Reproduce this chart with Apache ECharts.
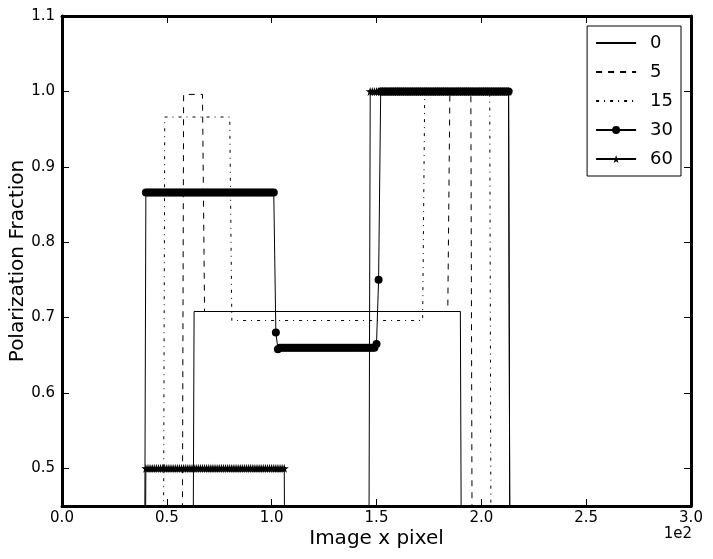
<!DOCTYPE html>
<html>
<head>
<meta charset="utf-8">
<script src="https://cdn.jsdelivr.net/npm/echarts@6/dist/echarts.min.js"></script>
<style>
  html, body { margin: 0; padding: 0; background: #fff; }
  #main { width: 713px; height: 559px; }
</style>
</head>
<body>
<div id="main"></div>
<script>
// legend names (angle)
const seriesNames = ['0', '5', '15', '30', '60']

// lines without markers: [x pixel, fraction] break points
const pol0 = [[62, 0], [63, 0.708], [190, 0.708], [191, 0]]
const pol5 = [[57, 0], [58, 0.996], [67, 0.996], [68, 0.708], [184, 0.708], [185, 1.0], [195, 1.0], [196, 0]]
const pol15 = [[48, 0], [49, 0.966], [80, 0.966], [81, 0.696], [172, 0.696], [173, 1.0], [204, 1.0], [205, 0]]

// lines with markers: one value per pixel, starting at x = 39
const startX = 39
const pol30 = [
  0,
  0.866, 0.866, 0.866, 0.866, 0.866, 0.866, 0.866, 0.866, 0.866, 0.866,
  0.866, 0.866, 0.866, 0.866, 0.866, 0.866, 0.866, 0.866, 0.866, 0.866,
  0.866, 0.866, 0.866, 0.866, 0.866, 0.866, 0.866, 0.866, 0.866, 0.866,
  0.866, 0.866, 0.866, 0.866, 0.866, 0.866, 0.866, 0.866, 0.866, 0.866,
  0.866, 0.866, 0.866, 0.866, 0.866, 0.866, 0.866, 0.866, 0.866, 0.866,
  0.866, 0.866, 0.866, 0.866, 0.866, 0.866, 0.866, 0.866, 0.866, 0.866,
  0.866, 0.866,
  0.68, 0.658,
  0.66, 0.66, 0.66, 0.66, 0.66, 0.66, 0.66, 0.66, 0.66, 0.66,
  0.66, 0.66, 0.66, 0.66, 0.66, 0.66, 0.66, 0.66, 0.66, 0.66,
  0.66, 0.66, 0.66, 0.66, 0.66, 0.66, 0.66, 0.66, 0.66, 0.66,
  0.66, 0.66, 0.66, 0.66, 0.66, 0.66, 0.66, 0.66, 0.66, 0.66,
  0.66, 0.66, 0.66, 0.66, 0.66, 0.66,
  0.665, 0.75,
  1.0, 1.0, 1.0, 1.0, 1.0, 1.0, 1.0, 1.0, 1.0, 1.0,
  1.0, 1.0, 1.0, 1.0, 1.0, 1.0, 1.0, 1.0, 1.0, 1.0,
  1.0, 1.0, 1.0, 1.0, 1.0, 1.0, 1.0, 1.0, 1.0, 1.0,
  1.0, 1.0, 1.0, 1.0, 1.0, 1.0, 1.0, 1.0, 1.0, 1.0,
  1.0, 1.0, 1.0, 1.0, 1.0, 1.0, 1.0, 1.0, 1.0, 1.0,
  1.0, 1.0, 1.0, 1.0, 1.0, 1.0, 1.0, 1.0, 1.0, 1.0,
  1.0, 1.0,
  0
]
const pol60 = [
  0,
  0.5, 0.5, 0.5, 0.5, 0.5, 0.5, 0.5, 0.5, 0.5, 0.5,
  0.5, 0.5, 0.5, 0.5, 0.5, 0.5, 0.5, 0.5, 0.5, 0.5,
  0.5, 0.5, 0.5, 0.5, 0.5, 0.5, 0.5, 0.5, 0.5, 0.5,
  0.5, 0.5, 0.5, 0.5, 0.5, 0.5, 0.5, 0.5, 0.5, 0.5,
  0.5, 0.5, 0.5, 0.5, 0.5, 0.5, 0.5, 0.5, 0.5, 0.5,
  0.5, 0.5, 0.5, 0.5, 0.5, 0.5, 0.5, 0.5, 0.5, 0.5,
  0.5, 0.5, 0.5, 0.5, 0.5, 0.5, 0.5,
  0, 0, 0, 0, 0, 0, 0, 0, 0, 0,
  0, 0, 0, 0, 0, 0, 0, 0, 0, 0,
  0, 0, 0, 0, 0, 0, 0, 0, 0, 0,
  0, 0, 0, 0, 0, 0, 0, 0, 0, 0,
  1.0, 1.0, 1.0, 1.0, 1.0, 1.0, 1.0, 1.0, 1.0, 1.0,
  1.0, 1.0, 1.0, 1.0, 1.0, 1.0, 1.0, 1.0, 1.0, 1.0,
  1.0, 1.0, 1.0, 1.0, 1.0, 1.0, 1.0, 1.0, 1.0, 1.0,
  1.0, 1.0, 1.0, 1.0, 1.0, 1.0, 1.0, 1.0, 1.0, 1.0,
  1.0, 1.0, 1.0, 1.0, 1.0, 1.0, 1.0, 1.0, 1.0, 1.0,
  1.0, 1.0, 1.0, 1.0, 1.0, 1.0, 1.0, 1.0, 1.0, 1.0,
  1.0, 1.0, 1.0, 1.0, 1.0, 1.0, 1.0,
  0
]

// tick labels
const xTicks = [0, 50, 100, 150, 200, 250, 300]
const yTicks = [0.5, 0.6, 0.7, 0.8, 0.9, 1.0, 1.1]

const font = 'DejaVu Sans'
const starPath = 'path://M50,0 L61,35 L98,35 L68,57 L79,91 L50,70 L21,91 L32,57 L2,35 L39,35 Z'

function withX(values) {
  return values.map(function(v, i) {
    return [startX + i, v]
  })
}

const frameLine = { show: true, onZero: false, lineStyle: { color: '#000', width: 3 } }
const noMarker = { opacity: 0 } // legend: plain line, no symbol

const option = {
  animation: false,
  backgroundColor: '#fff',
  textStyle: { fontFamily: font },
  grid: { left: 62, right: 22, top: 16, bottom: 53, containLabel: false, outerBoundsMode: 'none' },
  legend: {
    data: [
      { name: seriesNames[0], itemStyle: noMarker },
      { name: seriesNames[1], itemStyle: noMarker },
      { name: seriesNames[2], itemStyle: noMarker },
      { name: seriesNames[3] },
      { name: seriesNames[4] }
    ],
    orient: 'vertical',
    right: 32,
    top: 26,
    backgroundColor: '#fff',
    borderColor: '#000',
    borderWidth: 1,
    borderRadius: 0,
    padding: [8, 8, 8, 8],
    itemWidth: 40,
    itemHeight: 10,
    itemGap: 11,
    inactiveColor: '#000',
    textStyle: { fontSize: 18, color: '#000', fontFamily: font, padding: [0, 0, 0, 9] }
  },
  xAxis: [
    {
      type: 'value',
      min: 0,
      max: 300,
      interval: 50,
      name: 'Image x pixel',
      nameLocation: 'middle',
      nameGap: 23,
      nameMoveOverlap: false,
      nameTextStyle: { fontSize: 20, color: '#000', fontFamily: font },
      axisLine: frameLine,
      axisTick: { show: true, inside: true, length: 7, lineStyle: { color: '#000', width: 1 } },
      splitLine: { show: false },
      axisLabel: {
        color: '#000',
        fontSize: 15,
        margin: 5,
        customValues: xTicks,
        formatter: function(v) { return (v / 100).toFixed(1) }
      }
    },
    {
      type: 'value',
      position: 'top',
      min: 0,
      max: 300,
      interval: 50,
      axisLine: frameLine,
      axisTick: { show: true, inside: true, length: 7, lineStyle: { color: '#000', width: 1 } },
      splitLine: { show: false },
      axisLabel: { show: false }
    }
  ],
  yAxis: [
    {
      type: 'value',
      min: 0.45,
      max: 1.1,
      name: 'Polarization Fraction',
      nameLocation: 'middle',
      nameGap: 34,
      nameMoveOverlap: false,
      nameTextStyle: { fontSize: 20, color: '#000', fontFamily: font },
      axisLine: frameLine,
      axisTick: { show: true, inside: true, length: 7, customValues: yTicks, lineStyle: { color: '#000', width: 1 } },
      splitLine: { show: false },
      axisLabel: {
        color: '#000',
        fontSize: 15,
        margin: 7,
        customValues: yTicks,
        formatter: function(v) { return v.toFixed(1) }
      }
    },
    {
      type: 'value',
      position: 'right',
      min: 0.45,
      max: 1.1,
      axisLine: frameLine,
      axisTick: { show: true, inside: true, length: 7, customValues: yTicks, lineStyle: { color: '#000', width: 1 } },
      splitLine: { show: false },
      axisLabel: { show: false }
    }
  ],
  graphic: [
    {
      type: 'text',
      right: 21,
      top: 527,
      style: { text: '1e2', fontSize: 15, fill: '#000', fontFamily: font }
    }
  ],
  series: [
    {
      name: seriesNames[0],
      type: 'line',
      data: pol0,
      symbol: 'none',
      clip: true,
      lineStyle: { color: '#000', width: 1 },
      itemStyle: { color: '#000' }
    },
    {
      name: seriesNames[1],
      type: 'line',
      data: pol5,
      symbol: 'none',
      clip: true,
      lineStyle: { color: '#000', width: 1, type: [6, 6] },
      itemStyle: { color: '#000' }
    },
    {
      name: seriesNames[2],
      type: 'line',
      data: pol15,
      symbol: 'none',
      clip: true,
      lineStyle: { color: '#000', width: 1, type: [3, 5, 1, 5] },
      itemStyle: { color: '#000' }
    },
    {
      name: seriesNames[3],
      type: 'line',
      data: withX(pol30),
      symbol: 'circle',
      symbolSize: 8,
      showAllSymbol: true,
      clip: true,
      lineStyle: { color: '#000', width: 1 },
      itemStyle: { color: '#000' }
    },
    {
      name: seriesNames[4],
      type: 'line',
      data: withX(pol60),
      symbol: starPath,
      symbolSize: 9,
      showAllSymbol: true,
      clip: true,
      lineStyle: { color: '#000', width: 1 },
      itemStyle: { color: '#000' }
    }
  ]
}

const myChart = echarts.init(document.getElementById('main'), null, { renderer: 'canvas' })
myChart.setOption(option)
</script>
</body>
</html>
